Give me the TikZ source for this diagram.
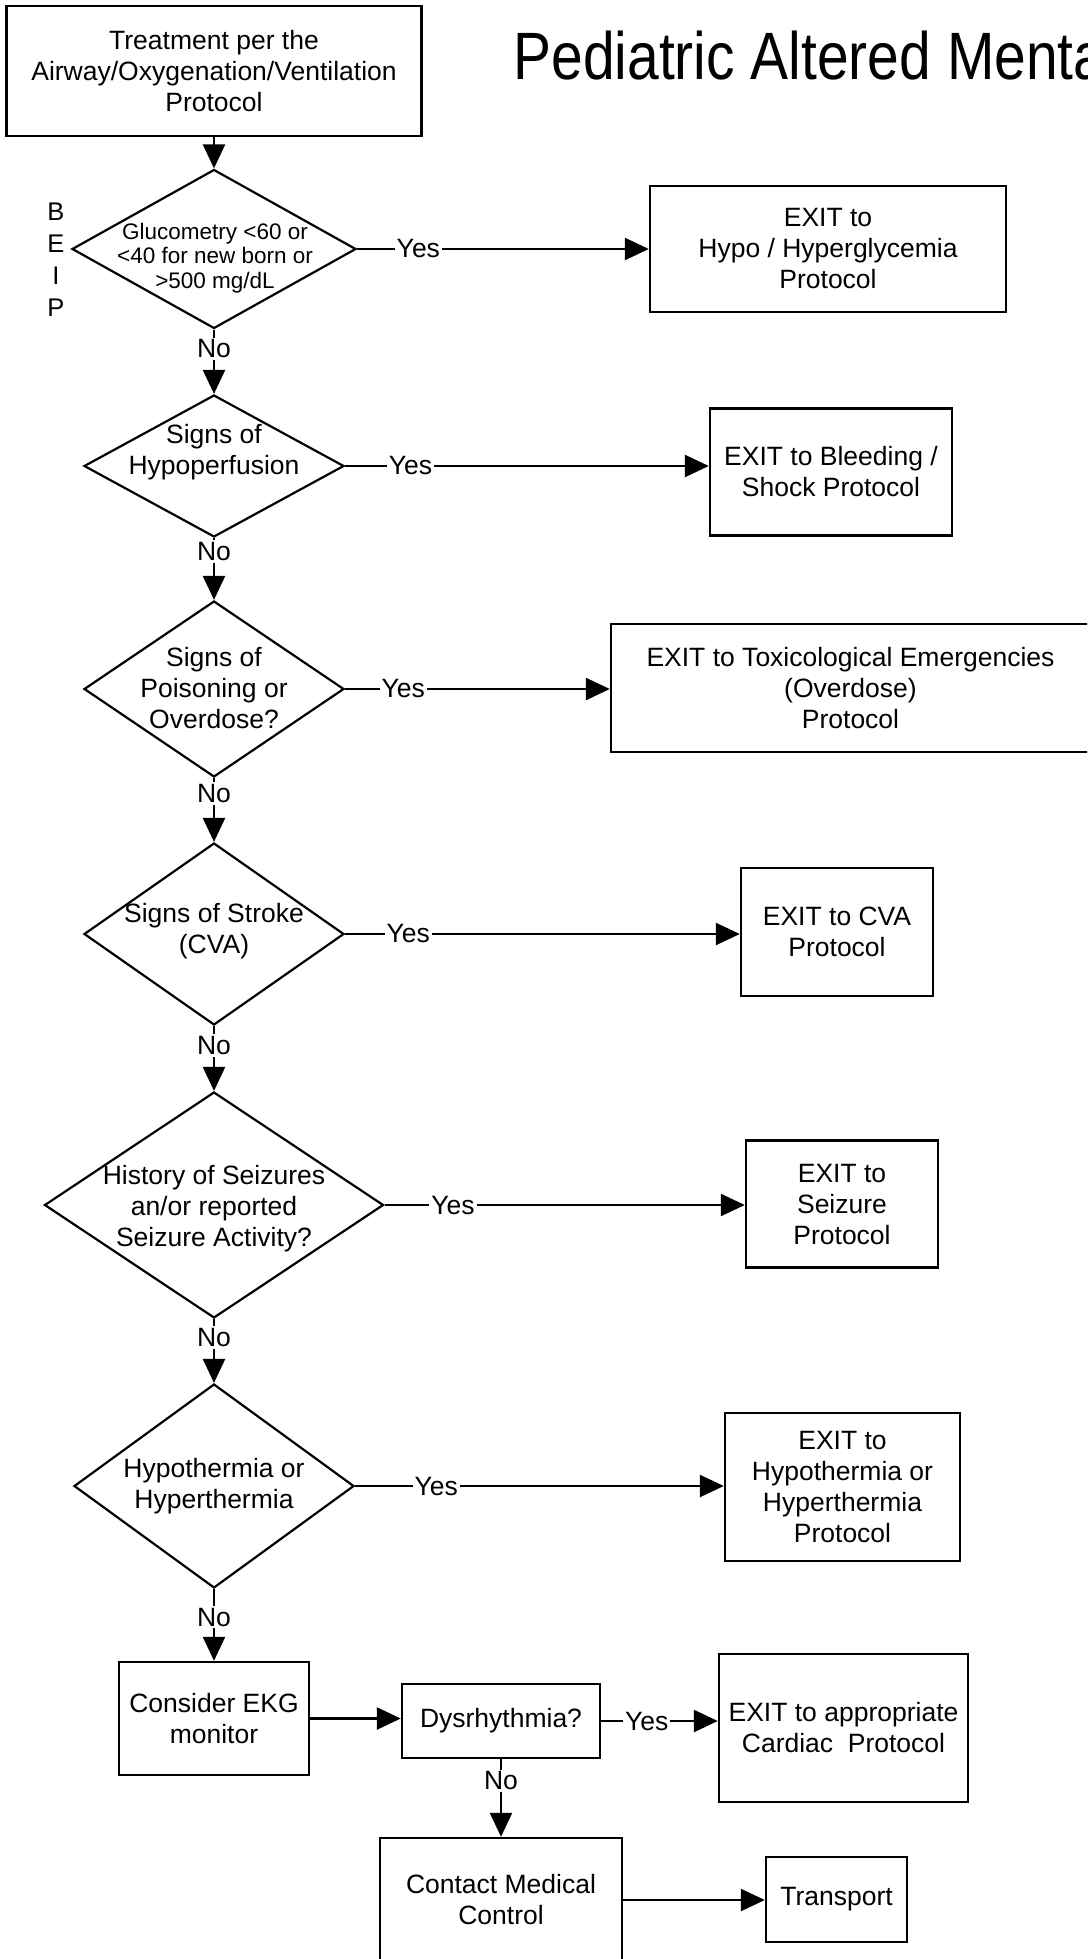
\documentclass[tikz,border=0pt]{standalone}
\usepackage{fontspec}
\setmainfont{Liberation Sans}
\usetikzlibrary{shapes.geometric,arrows.meta}

\tikzset{
  every node/.style={font=\fontsize{26.5}{31}\selectfont, align=center},
  box/.style={draw, line width=2.4pt, inner sep=0pt},
  test/.style={draw, diamond, line width=2.2pt, inner sep=0pt},
  flow/.style={line width=2.4pt, -{Triangle[length=24pt,width=22pt]}},
  ans/.style={fill=white, inner sep=2pt},
}

\begin{document}
\begin{tikzpicture}[x=1pt,y=-1pt]
    \useasboundingbox (0,0) rectangle (1087,1959);
    \clip (0,0) rectangle (1087,1959);
    % heading runs off the right edge
    \node[anchor=base west, font=\fontsize{67}{70}\selectfont] (title) at (510,80)
        {\scalebox{0.85}[1]{Pediatric Altered Mental}};
    \node[box, minimum width=415pt, minimum height=130pt] (treat) at (214,71)
        {Treatment per the\\Airway/Oxygenation/Ventilation\\Protocol};
    \node[font=\fontsize{25.5}{32}\selectfont] (beip) at (56,260) {B\\E\\I\\P};

    % decisions down the left side
    \node[test, minimum width=284pt, minimum height=159pt] (glu) at (214,249) {};
    \node[font=\fontsize{22.5}{24.5}\selectfont] (glutxt) at (215,258)
        {Glucometry <60 or\\<40 for new born or\\>500 mg/dL};
    \node[test, minimum width=260pt, minimum height=142pt] (perf) at (214,466) {};
    \node (perftxt) at (214,452) {Signs of\\Hypoperfusion};
    \node[test, minimum width=260pt, minimum height=176pt] (tox) at (214,689) {};
    \node (toxtxt) at (214,688) {Signs of\\Poisoning or\\Overdose?};
    \node[test, minimum width=260pt, minimum height=182pt] (cva) at (214,934) {};
    \node (cvatxt) at (214,931) {Signs of Stroke\\(CVA)};
    \node[test, minimum width=339pt, minimum height=226pt] (seiz) at (214,1205) {};
    \node (seiztxt) at (214,1209) {History of Seizures\\an/or reported\\Seizure Activity?};
    \node[test, minimum width=280pt, minimum height=204pt] (temp) at (214,1486) {};
    \node (temptxt) at (214,1486) {Hypothermia or\\Hyperthermia};

    % exits on the right
    \node[box, minimum width=356pt, minimum height=126pt] (xglu) at (828,249)
        {EXIT to\\Hypo / Hyperglycemia\\Protocol};
    \node[box, minimum width=242pt, minimum height=127pt] (xperf) at (831,472)
        {EXIT to Bleeding /\\Shock Protocol};
    \node[box, minimum width=479pt, minimum height=128pt] (xtox) at (850.5,688)
        {EXIT to Toxicological Emergencies\\(Overdose)\\Protocol};
    \node[box, minimum width=192pt, minimum height=128pt] (xcva) at (837,932)
        {EXIT to CVA\\Protocol};
    \node[box, minimum width=192pt, minimum height=127pt] (xseiz) at (842,1204)
        {EXIT to\\Seizure\\Protocol};
    \node[box, minimum width=235pt, minimum height=148pt] (xtemp) at (842.5,1487)
        {EXIT to\\Hypothermia or\\Hyperthermia\\Protocol};

    % bottom row
    \node[box, minimum width=190pt, minimum height=113pt] (ekg) at (214,1718.5)
        {Consider EKG\\monitor};
    \node[box, minimum width=198pt, minimum height=74pt] (dys) at (501,1721) {Dysrhythmia?};
    \node[box, minimum width=249pt, minimum height=148pt] (xcard) at (843.5,1728)
        {EXIT to appropriate\\Cardiac\ \ Protocol};
    \node[box, minimum width=242pt, minimum height=124pt] (contact) at (501,1900)
        {Contact Medical\\Control};
    \node[box, minimum width=141pt, minimum height=85pt] (transport) at (836.5,1899.5) {Transport};

    \draw[flow] (treat.south) -- (glu.north);
    \draw[flow] (glu.east) -- node[ans,pos=.21]{Yes} (glu.east -| xglu.west);
    \draw[flow] (glu.south) -- node[ans,pos=.3]{No} (perf.north);
    \draw[flow] (perf.east) -- node[ans,pos=.18]{Yes} (perf.east -| xperf.west);
    \draw[flow] (perf.south) -- node[ans,pos=.22]{No} (tox.north);
    \draw[flow] (tox.east) -- node[ans,pos=.22]{Yes} (tox.east -| xtox.west);
    \draw[flow] (tox.south) -- node[ans,pos=.24]{No} (cva.north);
    \draw[flow] (cva.east) -- node[ans,pos=.16]{Yes} (cva.east -| xcva.west);
    \draw[flow] (cva.south) -- node[ans,pos=.3]{No} (seiz.north);
    \draw[flow] (seiz.east) -- node[ans,pos=.19]{Yes} (seiz.east -| xseiz.west);
    \draw[flow] (seiz.south) -- node[ans,pos=.29]{No} (temp.north);
    \draw[flow] (temp.east) -- node[ans,pos=.22]{Yes} (temp.east -| xtemp.west);
    \draw[flow] (temp.south) -- node[ans,pos=.39]{No} (ekg.north);
    \draw[flow] (ekg.east) -- (ekg.east -| dys.west);
    \draw[flow] (dys.east) -- node[ans,pos=.39]{Yes} (dys.east -| xcard.west);
    \draw[flow] (dys.south) -- node[ans,pos=.28]{No} (contact.north);
    \draw[flow] (contact.east) -- (contact.east -| transport.west);
\end{tikzpicture}
\end{document}
